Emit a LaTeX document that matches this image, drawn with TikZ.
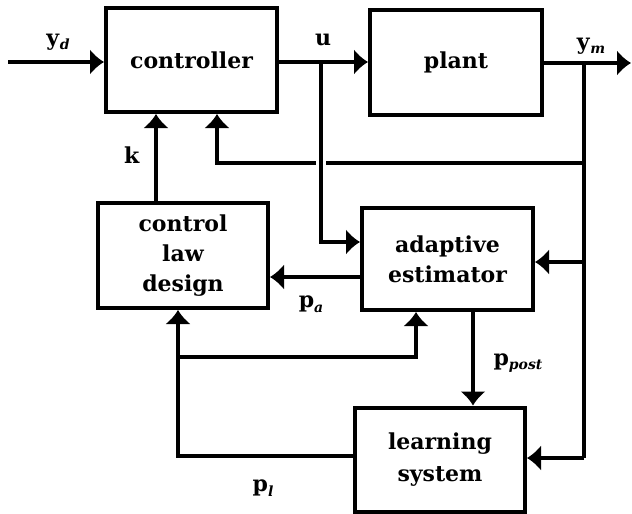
\documentclass[tikz,border=0pt]{standalone}
\usepackage{fontspec}
\setmainfont{DejaVu Serif}
\usetikzlibrary{arrows.meta}
\newcommand\boxfont{\fontsize{22}{30}\selectfont\bfseries}
\newcommand\sigl[2]{\textbf{#1}\raisebox{-0.4ex}{\fontsize{14}{14}\selectfont\bfseries\itshape #2}}
\begin{document}
\begin{tikzpicture}[x=1pt,y=-1pt,
  blk/.style={draw, line width=4pt, inner sep=0pt, align=center, font=\boxfont},
  conn/.style={line width=3.5pt},
  arr/.style={line width=3.5pt, -{Latex[length=14pt,width=26pt]}},
  sig/.style={inner sep=0pt, font=\fontsize{22}{26}\selectfont}]
\useasboundingbox (0,0) rectangle (632,514);

% blocks
\node[blk, minimum width=171pt, minimum height=104pt] (ctrl)  at (191.5,60)  {controller};
\node[blk, minimum width=172pt, minimum height=105pt] (plant) at (456,62.5)  {plant};
\node[blk, minimum width=170pt, minimum height=105pt] (law)   at (183,255.5) {control\\law\\design};
\node[blk, minimum width=171pt, minimum height=102pt] (est)   at (447.5,259) {adaptive\\estimator};
\node[blk, minimum width=170pt, minimum height=104pt, font=\fontsize{22}{32}\selectfont\bfseries] (learn) at (440,459.5) {learning\\system};

% junctions and free ends
\coordinate (yin)  at (8,62);
\coordinate (uj)   at (321,62);
\coordinate (yout) at (631,63);
\coordinate (ymj)  at (584,63);
\coordinate (fbR)  at (584,163);
\coordinate (gapR) at (326,163);
\coordinate (gapL) at (316,163);
\coordinate (fbL)  at (217,163);
\coordinate (kx)   at (156,0);
\coordinate (ucor) at (321,242);
\coordinate (estR) at (584,262);
\coordinate (paY)  at (0,277);
\coordinate (ppx)  at (473,0);
\coordinate (lrnR) at (584,458);
\coordinate (plL)  at (178,456);
\coordinate (plJ)  at (178,357);
\coordinate (plE)  at (416,357);

% forward path
\draw[arr] (yin) -- (yin -| ctrl.west);
\draw[arr] (ctrl.east |- uj) -- (uj -| plant.west);
\draw[arr] (plant.east |- yout) -- (yout);

% measured output fed back
\draw[conn] (ymj) -- (lrnR);
\draw[arr] (lrnR) -- (lrnR -| learn.east);
\draw[arr] (estR) -- (estR -| est.east);
\draw[conn] (fbR) -- (gapR);
\draw[arr] (gapL) -- (fbL) -- (fbL |- ctrl.south);

% control input to the estimator
\draw[arr] (uj) -- (ucor) -- (ucor -| est.west);

% gains and parameter estimates
\draw[arr] (law.north -| kx) -- (ctrl.south -| kx);
\draw[arr] (est.west |- paY) -- (law.east |- paY);
\draw[arr] (est.south -| ppx) -- (learn.north -| ppx);
\draw[arr] (learn.west |- plL) -- (plL) -- (law.south -| plL);
\draw[arr] (plJ) -- (plE) -- (est.south -| plE);

% signal labels
\node[sig] (lyd)  at (58,42)   {\sigl{y}{d}};
\node[sig] (lu)   at (323,40)  {\textbf{u}};
\node[sig] (lym)  at (591,46)  {\sigl{y}{m}};
\node[sig] (lk)   at (132,155) {\textbf{k}};
\node[sig] (lpa)  at (311,304) {\sigl{p}{a}};
\node[sig] (lpp)  at (518,363) {\sigl{p}{post}};
\node[sig] (lpl)  at (263,488) {\sigl{p}{l}};
\end{tikzpicture}
\end{document}
